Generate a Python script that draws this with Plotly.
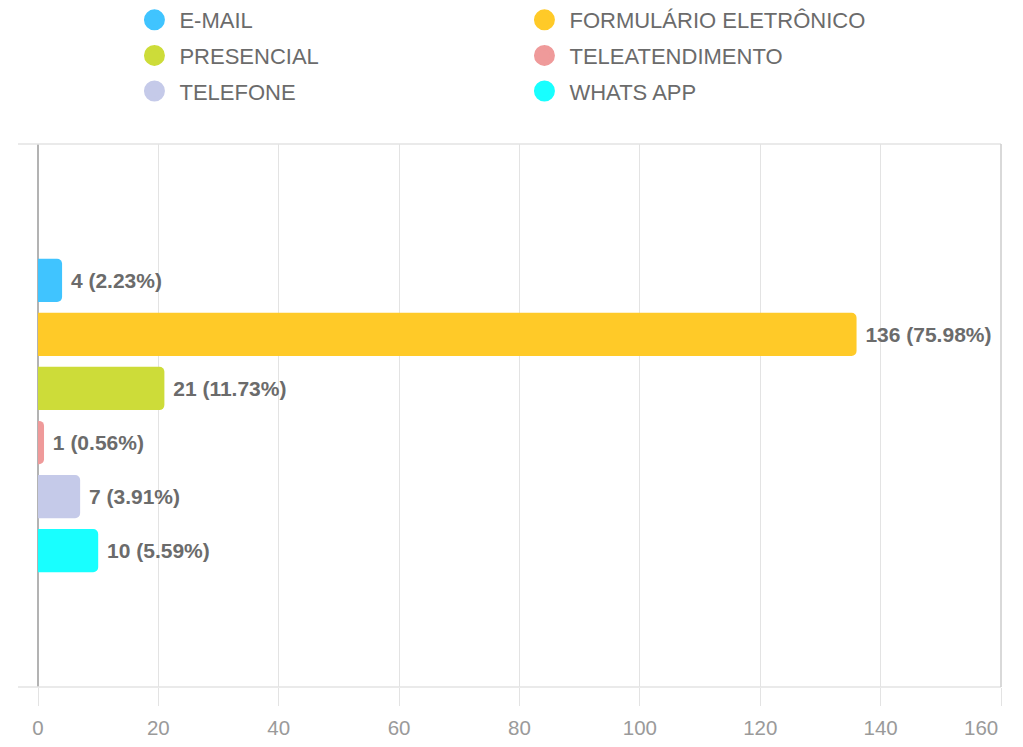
import plotly.graph_objects as go

categories = ["E-MAIL", "FORMULÁRIO ELETRÔNICO", "PRESENCIAL", "TELEATENDIMENTO", "TELEFONE", "WHATS APP"]
values = [4, 136, 21, 1, 7, 10]
colors = ["#40c4ff", "#ffca28", "#cddc39", "#ef9a9a", "#c5cae9", "#18ffff"]
x_ticks = [0, 20, 40, 60, 80, 100, 120, 140, 160]
x_tick_labels = [str(t) for t in x_ticks]

total = sum(values)
FONT = "Liberation Sans, Arial, sans-serif"

fig = go.Figure()
for name, v, c in zip(categories, values, colors):
    fig.add_trace(go.Bar(
        y=["canal"], x=[v], orientation="h", name=name,
        marker=dict(color=c, line=dict(width=0)),
        text=[f"\u00a0{v} ({v / total * 100:.2f}%)"], textposition="outside",
        textfont=dict(family=FONT, size=21, color="#6b6b6b", weight="bold"),
        cliponaxis=False, showlegend=False, hoverinfo="x+name",
    ))

# legend entries (circles), two columns
for i, (name, c) in enumerate(zip(categories, colors)):
    fig.add_trace(go.Scatter(
        x=[None], y=[None], mode="markers", name=name,
        marker=dict(symbol="circle", size=16, color=c, line=dict(width=5, color=c)),
        legend="legend" if i % 2 == 0 else "legend2",
        legendgroup=name, showlegend=True,
    ))

W = 963.0
H = 543.0
legend_common = dict(
    orientation="v", bgcolor="rgba(0,0,0,0)", borderwidth=0,
    font=dict(family=FONT, size=22, color="#6b6b6b"),
    tracegroupgap=4, itemsizing="trace", itemwidth=40,
    yanchor="top", xanchor="left", y=1 + 145 / H,
)

tick_font = dict(family=FONT, size=20.5, color="#9a9a9a")
fig.update_layout(
    width=1007, height=731,
    margin=dict(l=30, r=14, t=136, b=52, autoexpand=False),
    paper_bgcolor="white", plot_bgcolor="white",
    barmode="group", bargap=0.2, bargroupgap=0.2, barcornerradius=5,
    legend=dict(legend_common, x=(133 - 38) / W - 0.012 + 8 / W),
    legend2=dict(legend_common, x=(525 - 38) / W - 0.012 + 6 / W),
    xaxis=dict(
        range=[x_ticks[0], x_ticks[-1]], tickvals=x_ticks,
        ticktext=x_tick_labels[:-1] + [""],
        showgrid=True, gridcolor="#e3e3e3", gridwidth=1,
        zeroline=True, zerolinecolor="#b3b3b3", zerolinewidth=1.5,
        ticks="outside", ticklen=18, tickcolor="#e3e3e3", tickwidth=1,
        ticklabelstandoff=4,
        tickfont=tick_font, showline=False, fixedrange=True,
    ),
    yaxis=dict(
        type="category", range=[0.67, -0.67], showticklabels=False,
        showgrid=False, zeroline=False, showline=False, ticks="", fixedrange=True,
    ),
    annotations=[
        dict(text=x_tick_labels[-1], x=x_ticks[-1], xref="x", y=0, yref="paper",
             xanchor="right", yanchor="middle", xshift=-1, yshift=-40,
             showarrow=False, font=tick_font),
    ],
    shapes=[
        dict(type="line", xref="paper", yref="paper", x0=-20 / W, x1=1, y0=1, y1=1,
             line=dict(color="#e3e3e3", width=1.5)),
        dict(type="line", xref="paper", yref="paper", x0=-20 / W, x1=1, y0=0, y1=0,
             line=dict(color="#e3e3e3", width=1.5)),
        dict(type="line", xref="paper", yref="paper", x0=1, x1=1, y0=0, y1=1,
             line=dict(color="#cccccc", width=1.5)),
    ],
)

fig.write_html("out.html")
